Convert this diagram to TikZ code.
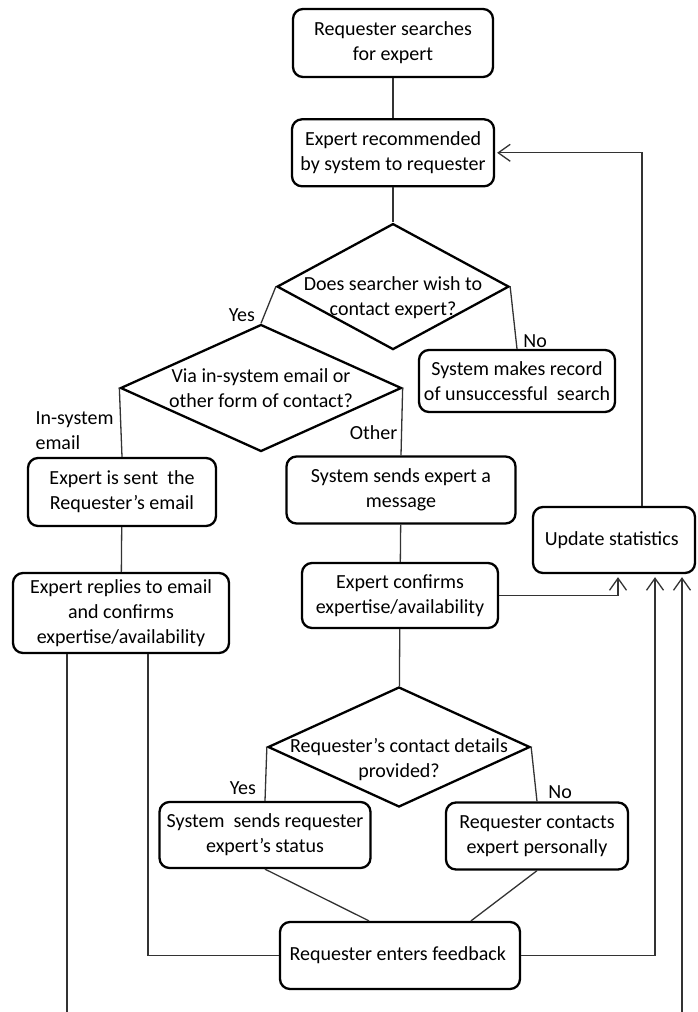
\documentclass[tikz,border=0pt]{standalone}
\usepackage{fontspec}
\setmainfont{Carlito}
\usetikzlibrary{positioning,shapes.geometric,arrows.meta}

\begin{document}
\begin{tikzpicture}[
    x=1pt, y=-1pt,
    node distance=40pt,
    action/.style={rectangle, rounded corners=10pt, draw=black, line width=2.3pt,
                   text centered, align=center, inner sep=0pt,
                   font=\fontsize{20}{25}\selectfont},
    decision/.style={diamond, draw=black, line width=2.3pt, inner sep=0pt},
    dtext/.style={align=center, font=\fontsize{20}{25}\selectfont},
    answer/.style={align=left, inner sep=0pt, font=\fontsize{20}{25}\selectfont},
    link/.style={draw=black!80, line width=1.3pt},
    arrow/.style={link, -{Straight Barb[length=12pt, width=17pt, line width=1.3pt]}}
]
\useasboundingbox (0,0) rectangle (697,1012);

% Search
\node[action, minimum width=200pt, minimum height=68pt] (search) at (393,43) {
    Requester searches\\
    for expert
};
\node[action, minimum width=202pt, minimum height=67pt, below=40pt of search] (recommend) {
    Expert recommended\\
    by system to requester
};

% First decision
\node[decision, minimum width=232pt, minimum height=126pt, below=35pt of recommend,
      label={[dtext, yshift=-11pt]center:{Does searcher wish to\\contact expert?}}] (wish) {};

\node[action, minimum width=196pt, minimum height=62pt] (record) at (517,381) {
    System makes record\\
    of unsuccessful\ \ search
};

% Second decision
\node[decision, minimum width=281pt, minimum height=127pt,
      label={[dtext]center:{Via in-system email or\\other form of contact?}}] (via) at (261,388) {};

% In-system branch
\node[action, minimum width=188pt, minimum height=68pt] (sent) at (122,492) {
    Expert is sent\ \ the\\
    Requester's email
};
\node[action, minimum width=216pt, minimum height=80pt] (replies) at (121,613) {
    Expert replies to email\\
    and confirms\\
    expertise/availability
};

% Other branch
\node[action, minimum width=229pt, minimum height=67pt] (message) at (401,490) {
    System sends expert a\\
    message
};
\node[action, minimum width=196pt, minimum height=65pt] (confirms) at (400,595.5) {
    Expert confirms\\
    expertise/availability
};

% Statistics
\node[action, minimum width=162pt, minimum height=66pt] (update) at (614,540) {
    Update statistics
};

% Third decision
\node[decision, minimum width=262pt, minimum height=120pt,
      label={[dtext, yshift=-13pt]center:{Requester's contact details\\provided?}}] (details) at (399,747) {};

\node[action, minimum width=211pt, minimum height=66pt] (sendstatus) at (265,835) {
    System\ \ sends requester\\
    expert's status
};
\node[action, minimum width=182pt, minimum height=67pt] (personally) at (537,836) {
    Requester contacts\\
    expert personally
};

% Feedback
\node[action, minimum width=240pt, minimum height=67pt] (feedback) at (400,955.5) {
    Requester enters feedback
};

% Flow lines
\draw[link] (search) -- (recommend);
\draw[link] (recommend) -- (wish);
\draw[link] (wish.west) -- (via.north);
\draw[link] (wish.east) -- (record.north);
\draw[link] (via.west) -- (sent.north);
\draw[link] (via.east) -- (message.north);
\draw[link] (sent) -- (replies);
\draw[link] (message) -- (confirms);
\draw[link] (confirms) -- (details);
\draw[link] (details.west) -- (sendstatus.north);
\draw[link] (details.east) -- (personally.north);
\draw[link] (sendstatus.south) -- ([xshift=-31pt]feedback.north);
\draw[link] (personally.south) -- ([xshift=71pt]feedback.north);
\draw[link] ([xshift=27pt]replies.south) |- (feedback.west);
\draw[arrow] (feedback.east) -| ([xshift=41pt, yshift=-3pt]update.south);
\draw[arrow] (confirms.east) -| ([xshift=4pt, yshift=-3pt]update.south);
\draw[arrow] ([xshift=28pt]update.north) |- ([xshift=2pt]recommend.east);

% Lines running off the page
\coordinate (leftend) at (67,1012);
\coordinate (rightend) at (682,1012);
\draw[link] (replies.south -| leftend) -- (leftend);
\draw[arrow] (rightend) -- ([yshift=-3pt]rightend |- update.south);

% Labels on lines
\node[answer] (yes1) at ([xshift=-34pt, yshift=-29pt]wish.west) {Yes};
\node[answer] (no1) at ([xshift=25pt, yshift=-55pt]wish.east) {No};
\node[answer, anchor=west] (insystem) at ([xshift=-84pt, yshift=-43pt]via.west) {In-system\\email};
\node[answer] (other) at ([xshift=-29pt, yshift=-45pt]via.east) {Other};
\node[answer] (yes2) at ([xshift=-24pt, yshift=-41pt]details.west) {Yes};
\node[answer] (no2) at ([xshift=29pt, yshift=-45pt]details.east) {No};

\end{tikzpicture}
\end{document}
